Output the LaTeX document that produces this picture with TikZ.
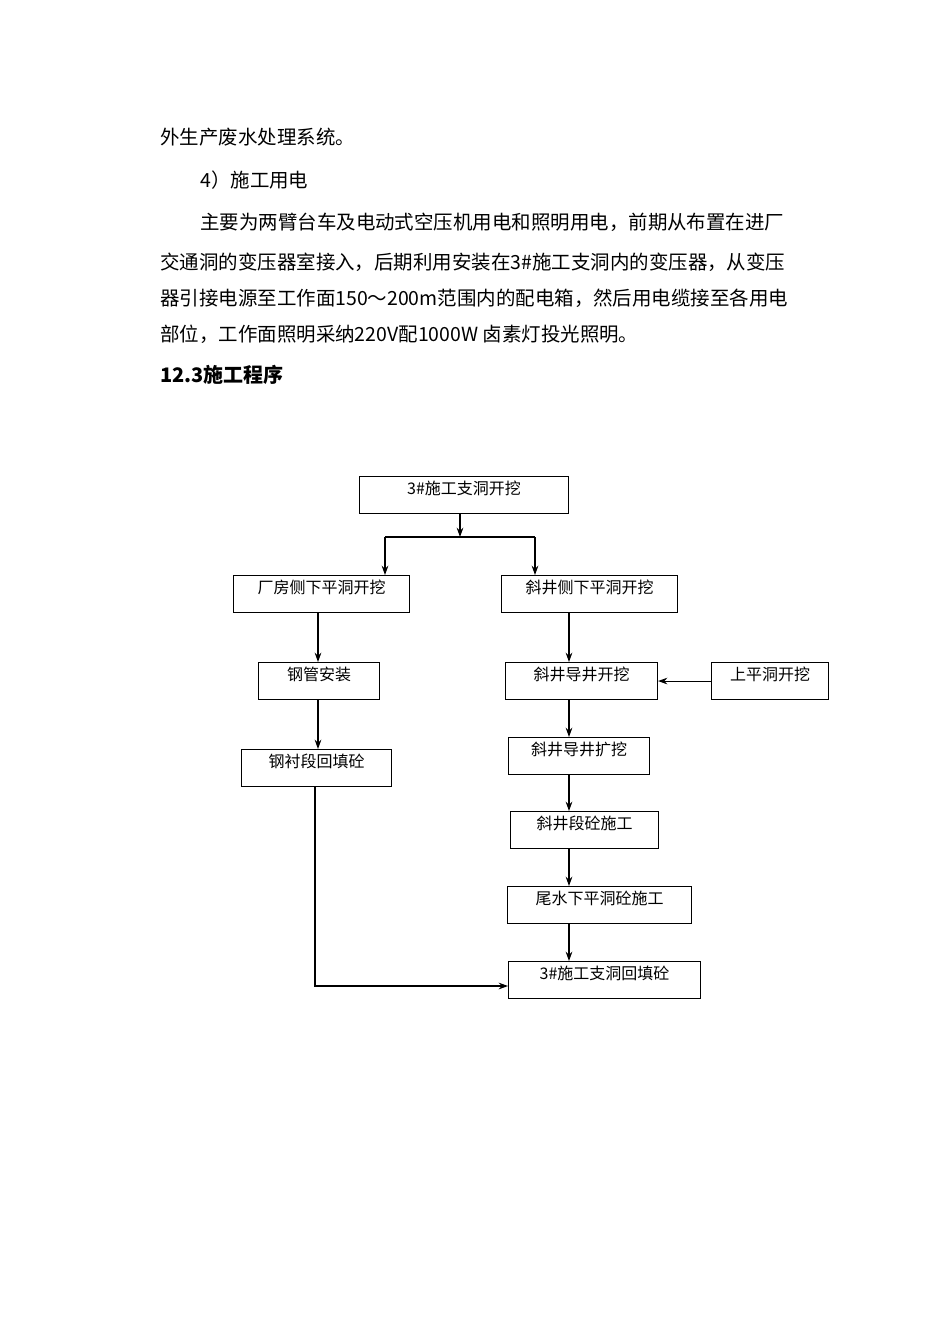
\documentclass[tikz,border=0pt]{standalone}
\usepackage{fontspec}
\setmainfont{Liberation Serif}
\newfontfamily\cjk{Noto Sans CJK SC}
\usetikzlibrary{arrows.meta}
\tikzset{
  bx/.style={draw,line width=0.8pt,inner sep=0pt,font=\cjk\fontsize{12pt}{14pt}\selectfont},
  ar/.style={-{Stealth[length=7pt,width=5pt]},line width=0.8pt},
  ln/.style={line width=0.8pt},
  para/.style={anchor=west,inner sep=0pt,font=\cjk\fontsize{14.6pt}{16pt}\selectfont}
}
\newcommand{\mkbox}[6]{\node[bx,minimum width=#4-#2,minimum height=#5-#3,anchor=north west] (#1) at (#2,#3) {};
  \node[font=\cjk\fontsize{12pt}{14pt}\selectfont,inner sep=0pt] at ($(#1.north)+(0,12)$) {#6};}
\usetikzlibrary{calc}
\begin{document}
\begin{tikzpicture}[x=0.75pt,y=-0.75pt]
\useasboundingbox (0,0) rectangle (950,1344);
\node[para] (p1) at (160,137) {外生产废水处理系统。};
\node[para] (p2) at (200,180) {4）施工用电};
\node[para] (p3) at (200,222) {主要为两臂台车及电动式空压机用电和照明用电，前期从布置在进厂};
\node[para] (p4) at (160,262) {交通洞的变压器室接入，后期利用安装在3\#施工支洞内的变压器，从变压};
\node[para] (p5) at (160,298) {器引接电源至工作面150～200m范围内的配电箱，然后用电缆接至各用电};
\node[para] (p6) at (160,334) {部位，工作面照明采纳220V配1000W 卤素灯投光照明。};
\node[anchor=west,inner sep=0pt,font=\cjk\bfseries\fontsize{15pt}{17pt}\selectfont] (h) at (160,375) {12.3施工程序};

\node[bx,minimum width=209*0.75pt,minimum height=37*0.75pt,anchor=north west] (A) at (359,476) {};
\node[bx,minimum width=176*0.75pt,minimum height=37*0.75pt,anchor=north west] (B) at (233,575) {};
\node[bx,minimum width=176*0.75pt,minimum height=37*0.75pt,anchor=north west] (C) at (501,575) {};
\node[bx,minimum width=121*0.75pt,minimum height=37*0.75pt,anchor=north west] (D) at (258,662) {};
\node[bx,minimum width=152*0.75pt,minimum height=37*0.75pt,anchor=north west] (E) at (505,662) {};
\node[bx,minimum width=117*0.75pt,minimum height=37*0.75pt,anchor=north west] (F) at (711,662) {};
\node[bx,minimum width=150*0.75pt,minimum height=37*0.75pt,anchor=north west] (G) at (241,749) {};
\node[bx,minimum width=141*0.75pt,minimum height=37*0.75pt,anchor=north west] (H) at (508,737) {};
\node[bx,minimum width=148*0.75pt,minimum height=37*0.75pt,anchor=north west] (I) at (510,811) {};
\node[bx,minimum width=184*0.75pt,minimum height=37*0.75pt,anchor=north west] (J) at (507,886) {};
\node[bx,minimum width=192*0.75pt,minimum height=37*0.75pt,anchor=north west] (K) at (508,961) {};
\foreach \n/\t in {A/3\#施工支洞开挖,B/厂房侧下平洞开挖,C/斜井侧下平洞开挖,D/钢管安装,E/斜井导井开挖,F/上平洞开挖,G/钢衬段回填砼,H/斜井导井扩挖,I/斜井段砼施工,J/尾水下平洞砼施工,K/3\#施工支洞回填砼}
  \node[font=\cjk\fontsize{12pt}{14pt}\selectfont,inner sep=0pt] (t\n) at ($(\n.north)+(0,12)$) {\t};

\coordinate (s) at (460,537);
\coordinate (sl) at (385,537);
\coordinate (sr) at (535,537);
\draw[ar] (A.south -| s) -- (s);
\draw[ln] (sl) -- (sr);
\draw[ar] (sl) -- (sl |- B.north);
\draw[ar] (sr) -- (sr |- C.north);
\draw[ar] (B.south -| 318,0) -- (D.north -| 318,0);
\draw[ar] (D.south -| 318,0) -- (G.north -| 318,0);
\draw[ar] (C.south -| 569,0) -- (E.north -| 569,0);
\draw[ar] (F.west) -- (E.east);
\draw[ar] (E.south -| 569,0) -- (H.north -| 569,0);
\draw[ar] (H.south -| 569,0) -- (I.north -| 569,0);
\draw[ar] (I.south -| 569,0) -- (J.north -| 569,0);
\draw[ar] (J.south -| 569,0) -- (K.north -| 569,0);
\draw[ar] (G.south -| 315,0) |- (K.west |- 0,986);
\end{tikzpicture}
\end{document}
